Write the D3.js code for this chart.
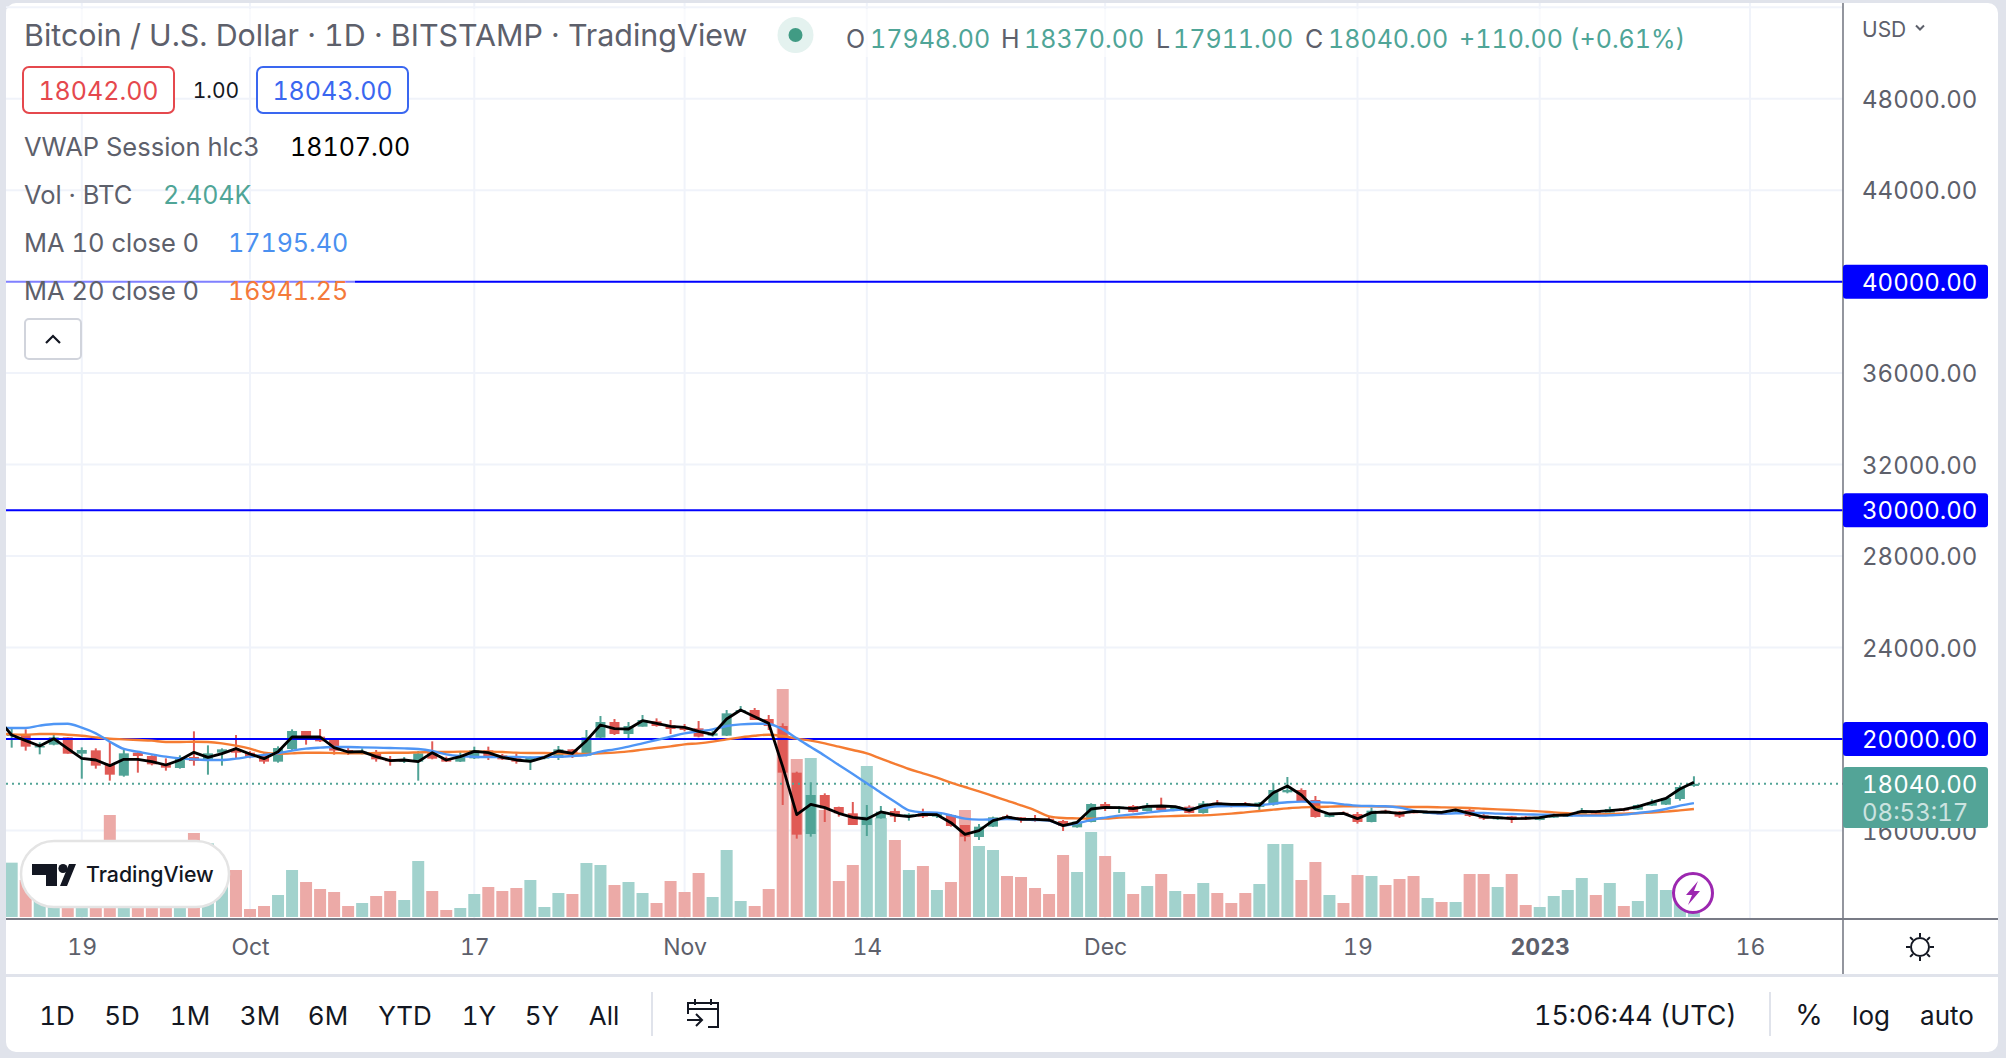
<!DOCTYPE html>
<html><head><meta charset="utf-8">
<script src="https://cdn.jsdelivr.net/npm/d3@7"></script>
<style>
html,body{margin:0;padding:0;background:#e0e3eb;overflow:hidden}
svg{display:block}
text{font-family:Inter,"Noto Sans",sans-serif;font-variant-numeric:tabular-nums;font-feature-settings:"tnum" 1}
</style></head><body>
<svg id="c" width="2006" height="1058"></svg>
<script>
const startDate = "2022-09-14";
const opens = [20131,20218,19650,19752,20073,19358,19504,18863,18396,19402,19256,18907,18732,19213,19038,19402,19548,19402,19300,19009,19563,20350,20102,19956,19519,
19402,19431,19111,19009,19009,19402,19154,19009,19154,19504,19286,19154,19023,19140,19169,19548,19271,20058,20743,20218,20539,20772,20597,20510,20466,
20145,20145,21180,21268,20874,20568,18528,15846,17551,17026,16750,16239,16531,16852,16604,16750,16604,16677,16239,15715,16167,16618,16575,16531,16516,
16414,16138,16371,17158,16939,17070,16852,17085,16924,17041,16764,17216,17187,17187,17026,17129,17668,17770,17333,16589,16779,16720,16371,16866,16822,
16837,16735,16808,16837,16896,16662,16487,16618,16604,16458,16560,16604,16633,16822,16779,16953,16910,17085,17129,17376,17948];
const highs = [20510,20422,19854,20175,20073,19635,19592,19869,19548,19446,19286,19154,19286,20335,19723,19592,20175,19460,19373,19679,20422,20350,20437,19985,19621,
19592,19519,19256,19213,19475,19898,19227,19431,19665,19665,19344,19373,19227,19256,19694,19563,20393,21005,20874,20743,21049,20903,20831,20656,20787,
20364,21268,21443,21355,21049,20685,18571,18105,17624,17041,17245,17114,17070,16968,16750,16953,16779,16706,16239,16283,16604,16691,16589,16677,16604,
16458,16414,17187,17245,17070,17114,17201,17434,17070,17099,17289,17333,17187,17245,17245,18062,18338,17843,17508,16735,16837,16808,16997,16910,16852,
16896,16837,16852,16910,16968,16750,16633,16633,16633,16633,16750,16735,16983,16852,17041,16968,17143,17362,17449,17974,18370];
const lows = [19621,19490,19329,19723,19358,18265,18703,18178,18353,18528,18848,18615,18703,18834,18440,18834,19140,19154,18921,18965,19490,19752,19869,19315,19300,
19329,19009,18834,18950,18178,19111,18994,18994,19125,19082,19082,18921,18644,19111,19082,19169,19242,20043,20175,20000,20539,20539,20218,20335,20073,
20102,20131,21180,20831,20393,17114,15642,15729,16371,16604,16239,15758,16516,16371,16429,16546,16546,16167,15525,15584,16152,16458,16341,16385,16371,
15977,16123,16356,16852,16764,16793,16837,16866,16910,16750,16735,17085,17012,17026,16837,17085,17624,17275,16560,16575,16691,16298,16356,16750,16546,
16750,16720,16677,16808,16589,16458,16458,16327,16458,16443,16546,16589,16618,16720,16764,16837,16896,17070,17114,17304,17911];
const closes = [20218,19665,19694,20073,19358,19519,18834,18440,19373,19256,18892,18746,19198,19038,19373,19548,19402,19213,19009,19606,20350,20102,19898,19490,19402,
19446,19111,19023,19111,19373,19140,19009,19300,19519,19227,19111,19009,19213,19227,19548,19315,20073,20743,20218,20568,20831,20568,20437,20393,20102,
20248,21122,21268,20831,20568,18528,15817,17551,16968,16750,16239,16604,16822,16604,16706,16604,16720,16196,15729,16167,16575,16502,16458,16443,16429,
16196,16385,17158,16939,17041,16808,17085,16896,17070,16764,17187,17114,17041,17041,17216,17770,17770,17289,16589,16720,16706,16371,16866,16764,16604,
16750,16808,16691,16910,16633,16516,16604,16487,16487,16575,16720,16706,16866,16735,16939,16866,17114,17216,17420,17901,18040];
const volumesK = [16.3,11.1,9,9,8,9,10,30.6,9,10,9,8,10,25.2,22.1,11,14.1,2.4,3.3,6.6,14.1,10.5,8.4,7.5,3.3,
4.2,6.3,7.8,5.1,16.8,7.8,2.1,2.7,6.9,9,7.8,8.7,11.1,3,7.2,6.9,16.2,15.6,9.6,10.5,7.2,4.2,10.8,7.5,13.2,
6,20.1,4.8,3.3,8.4,68.4,47.4,47.7,32.1,10.8,15.6,45.3,29.7,23.1,14.1,15.3,8.1,10.5,32.1,21.3,20.1,12.3,12,8.7,6.9,
18.6,13.5,25.5,18.3,13.5,6.9,9.3,12.9,7.8,6.9,10.2,7.2,4.2,7.2,9.9,21.9,21.9,11.1,16.5,6.6,4.2,12.6,12.3,9.6,11.4,
12.3,5.7,4.5,4.5,12.9,12.9,9,12.9,3.6,3,6.3,8.1,11.7,6.6,10.2,3.3,4.8,12.9,8.1,5,2.404];
// The three lines start one day before the first visible candle (off the left edge).
const vwap = [20889,20175,19927,19694,20014,19577,19154,19082,18834,19111,19111,19009,18863,19082,19417,19198,19358,19577,19344,19140,19446,20087,20087,20087,19621,19431,
19446,19227,19052,19082,19009,19402,19082,19227,19460,19402,19198,19082,19023,19198,19475,19373,19927,20612,20452,20437,20801,20685,20554,20510,20335,
20204,20874,21268,20976,20685,18790,16691,17143,16997,16750,16575,16502,16808,16677,16604,16706,16691,16341,15831,15992,16429,16589,16487,16487,16458,
16210,16356,16939,17012,16997,16953,17056,17070,17041,16881,17085,17172,17143,17143,17099,17653,17945,17551,16924,16720,16750,16516,16779,16808,16750,
16837,16808,16793,16896,16750,16589,16560,16516,16531,16560,16662,16677,16837,16822,16866,16924,17041,17231,17405,17813,18107];
const ma10 = [20481,20481,20481,20583,20656,20670,20495,20248,19883,19563,19446,19329,19227,19154,19111,19082,19082,19140,19227,19300,19373,19490,19577,19621,19650,19650,
19635,19621,19606,19592,19563,19475,19329,19256,19227,19213,19213,19213,19198,19213,19227,19256,19300,19446,19548,19665,19810,19956,20102,20248,20335,
20422,20568,20641,20670,20656,20422,20029,19650,19271,18863,18469,18062,17653,17260,16881,16793,16779,16662,16516,16473,16487,16502,16487,16458,16429,
16225,16312,16458,16560,16648,16706,16779,16852,16896,16939,16983,17056,17070,17070,17099,17172,17231,17260,17245,17216,17143,17085,17070,17056,16997,
16866,16779,16735,16750,16764,16764,16735,16720,16706,16691,16677,16662,16648,16648,16662,16691,16764,16837,16939,17085,17195.40];
const ma20 = [20248,20204,20189,20218,20218,20189,20145,20073,20014,19985,19956,19927,19869,19869,19883,19869,19810,19708,19577,19402,19358,19373,19402,19402,19388,19373,
19373,19388,19402,19402,19417,19431,19431,19446,19446,19446,19431,19402,19388,19388,19373,19358,19344,19373,19402,19460,19533,19606,19679,19767,19810,
19883,19985,20073,20145,20189,20131,20014,19927,19810,19665,19519,19373,19140,18907,18688,18499,18309,18090,17901,17711,17507,17303,17099,16881,16618,
16546,16531,16516,16516,16560,16575,16589,16618,16633,16648,16662,16691,16735,16793,16852,16910,16968,17012,17026,17041,17056,17056,17056,17041,17041,
17026,17026,17012,16997,16983,16953,16924,16896,16866,16837,16793,16750,16706,16691,16720,16735,16750,16779,16822,16881,16941.25];
const priceTicks = [48000,44000,40000,36000,32000,28000,24000,20000,16000];
const gridPrices = [52000,48000,44000,40000,36000,32000,28000,24000,20000,16000];
const levels = [40000,30000,20000];
const lastPrice = 18040;
const xTickDates = ["2022-09-19","2022-10-01","2022-10-17","2022-11-01","2022-11-14","2022-12-01","2022-12-19","2023-01-01","2023-01-16"];
const xTickLabels = ["19","Oct","17","Nov","14","Dec","19","2023","16"];
const rangeButtons = ["1D","5D","1M","3M","6M","YTD","1Y","5Y","All"];

const svg = d3.select("#c");
const L=6,R=1843,T=3,AX=918;
const y = d3.scaleLinear().domain([20000,48000]).range([739,98.7]);
const xDate = d3.scaleUtc().domain([new Date("2022-10-01T00:00:00Z"),new Date("2023-01-16T00:00:00Z")]).range([250,1750]);
const dayAt = i => new Date(Date.parse(startDate+"T00:00:00Z")+i*864e5);
const x = i => xDate(dayAt(i));
const v = d3.scaleLinear().domain([0,68.4]).range([917,689]);
const UP="#50a396",DN="#e05a55",UPV="#a2d2cd",DNV="#ecaaa7",TXT="#5d606b",INK="#131722";

// card
svg.append("rect").attr("x",L).attr("y",T).attr("width",1998-L).attr("height",1052-T).attr("rx",10).attr("fill","#fff");
const defs=svg.append("defs");
defs.append("clipPath").attr("id","plot").append("rect").attr("x",L).attr("y",T).attr("width",R-L).attr("height",AX-T);
const plot=svg.append("g").attr("clip-path","url(#plot)");

// grid
plot.append("g").selectAll("line").data(gridPrices).join("line")
 .attr("x1",L).attr("x2",R).attr("y1",d=>y(d)).attr("y2",d=>y(d)).attr("stroke","#f0f3fa").attr("stroke-width",2);
plot.append("g").selectAll("line").data(xTickDates).join("line")
 .attr("x1",d=>xDate(new Date(d+"T00:00:00Z"))).attr("x2",d=>xDate(new Date(d+"T00:00:00Z")))
 .attr("y1",T).attr("y2",AX).attr("stroke","#f0f3fa").attr("stroke-width",2);

// volume
plot.append("g").selectAll("rect").data(volumesK).join("rect")
 .attr("x",(d,i)=>x(i)-6).attr("width",12).attr("y",d=>v(d)).attr("height",d=>917-v(d))
 .attr("fill",(d,i)=>closes[i]>=opens[i]?UPV:DNV);

// candles
const cg=plot.append("g");
cg.selectAll("line").data(opens).join("line")
 .attr("x1",(d,i)=>x(i)).attr("x2",(d,i)=>x(i)).attr("y1",(d,i)=>y(highs[i])).attr("y2",(d,i)=>y(lows[i]))
 .attr("stroke",(d,i)=>closes[i]>=d?UP:DN).attr("stroke-width",2);
cg.selectAll("rect").data(opens).join("rect")
 .attr("x",(d,i)=>x(i)-5).attr("width",10)
 .attr("y",(d,i)=>y(Math.max(d,closes[i]))).attr("height",(d,i)=>Math.max(1.5,Math.abs(y(d)-y(closes[i]))))
 .attr("fill",(d,i)=>closes[i]>=d?UP:DN);

// last price dotted
plot.append("line").attr("x1",L).attr("x2",R).attr("y1",y(lastPrice)).attr("y2",y(lastPrice))
 .attr("stroke","#53a497").attr("stroke-width",2).attr("stroke-dasharray","2 4");

// levels
plot.append("g").selectAll("line").data(levels).join("line")
 .attr("x1",L).attr("x2",R).attr("y1",d=>y(d)).attr("y2",d=>y(d)).attr("stroke","#0000ff").attr("stroke-width",2);

// lines
const lineOf=(curve)=>d3.line().x((d,i)=>x(i-1)).y(d=>y(d)).curve(curve);
plot.append("path").datum(ma20).attr("d",lineOf(d3.curveMonotoneX)).attr("fill","none").attr("stroke","#f57c32").attr("stroke-width",2.4);
plot.append("path").datum(ma10).attr("d",lineOf(d3.curveMonotoneX)).attr("fill","none").attr("stroke","#4f96f5").attr("stroke-width",2.4);
plot.append("path").datum(vwap).attr("d",lineOf(d3.curveLinear)).attr("fill","none").attr("stroke","#000").attr("stroke-width",2.8).attr("stroke-linejoin","round");

// axis frame
svg.append("line").attr("x1",L).attr("x2",1998).attr("y1",919).attr("y2",919).attr("stroke","#787b86").attr("stroke-width",2);
svg.append("line").attr("x1",R).attr("x2",R).attr("y1",T).attr("y2",974).attr("stroke","#787b86").attr("stroke-width",1.6);
svg.append("line").attr("x1",L).attr("x2",1998).attr("y1",975.5).attr("y2",975.5).attr("stroke","#e0e3eb").attr("stroke-width",3);

// price axis
const yAxis=d3.axisRight(y).tickValues(priceTicks).tickFormat(d=>d3.format(".2f")(d)).tickSize(0).tickPadding(19);
const ya=svg.append("g").attr("transform",`translate(${R},0)`).call(yAxis);
ya.select(".domain").remove();
ya.selectAll("text").attr("fill",TXT).style("font-size","24px").attr("dy","0.36em");

// time axis
const xAxis=d3.axisBottom(xDate).tickValues(xTickDates.map(d=>new Date(d+"T00:00:00Z"))).tickFormat((d,i)=>xTickLabels[i]).tickSize(0).tickPadding(0);
const xa=svg.append("g").attr("transform","translate(0,955)").call(xAxis);
xa.select(".domain").remove();
xa.selectAll("text").attr("dy",0).attr("y",0).attr("fill",TXT).style("font-size","23px")
 .style("font-weight",(d,i)=>xTickLabels[i]==="2023"?700:400);

// legend veil
svg.append("rect").attr("x",L).attr("y",9).attr("width",1690).attr("height",48).attr("fill","#fff").attr("opacity",.6);
svg.append("rect").attr("x",L).attr("y",279).attr("width",349).attr("height",6).attr("fill","#fff").attr("opacity",.5);

const t=(s,xx,yy,size,fill,anchor,w)=>svg.append("text").text(s).attr("x",xx).attr("y",yy).attr("fill",fill)
 .style("font-size",size+"px").attr("text-anchor",anchor||"start").style("font-weight",w||400);

t("Bitcoin / U.S. Dollar · 1D · BITSTAMP · TradingView",24,46,30.4,TXT);
svg.append("circle").attr("cx",795.5).attr("cy",35).attr("r",18).attr("fill","#e4f2ef");
svg.append("circle").attr("cx",795.5).attr("cy",35).attr("r",7).attr("fill","#419b84");
const G="#4fa597";
t("O",846,48,25,TXT); t("17948.00",870,48,25,G);
t("H",1001,48,25,TXT); t("18370.00",1024,48,25,G);
t("L",1156,48,25,TXT); t("17911.00",1173,48,25,G);
t("C",1305,48,25,TXT); t("18040.00",1328,48,25,G);
t("+110.00 (+0.61%)",1459,48,25,G);

svg.append("rect").attr("x",23).attr("y",67).attr("width",151).attr("height",46).attr("rx",6).attr("fill","#fff").attr("stroke","#e5484d").attr("stroke-width",2);
t("18042.00",98.5,100,25,"#e5484d","middle");
t("1.00",216,98,21,INK,"middle");
svg.append("rect").attr("x",257).attr("y",67).attr("width",151).attr("height",46).attr("rx",6).attr("fill","#fff").attr("stroke","#3a67f0").attr("stroke-width",2);
t("18043.00",332.5,100,25,"#3a67f0","middle");

t("VWAP Session hlc3",24,156,25.5,TXT); t("18107.00",290,156,25,"#000");
t("Vol · BTC",24,204,25.5,TXT); t("2.404K",163,204,25,G);
t("MA 10 close 0",24,252,25.5,TXT); t("17195.40",228,252,25,"#4a90f0");
t("MA 20 close 0",24,300,25.5,TXT); t("16941.25",228,300,25,"#f47a3a");
svg.append("rect").attr("x",25).attr("y",319).attr("width",56).attr("height",40).attr("rx",4).attr("fill","#fff").attr("stroke","#d1d4dc").attr("stroke-width",2);
svg.append("path").attr("d","M46 343 L53 336 L60 343").attr("fill","none").attr("stroke",INK).attr("stroke-width",2.2);

// price labels
svg.append("g").selectAll("rect").data(levels).join("rect").attr("x",R).attr("width",145).attr("y",d=>y(d)-17).attr("height",34).attr("rx",3).attr("fill","#0000ff");
svg.append("g").selectAll("text").data(levels).join("text").text(d=>d3.format(".2f")(d)).attr("x",1862).attr("y",d=>y(d)+9).attr("fill","#fff").style("font-size","24px");
svg.append("rect").attr("x",R).attr("y",767).attr("width",145).attr("height",61).attr("rx",3).attr("fill","#53a497");
t("18040.00",1862,793,24,"#fff");
t("08:53:17",1862,821,24,"#fff").attr("opacity",.7);
t("USD",1862,37,21,TXT);
svg.append("path").attr("d","M1916 25.5 L1920 29.5 L1924 25.5").attr("fill","none").attr("stroke",TXT).attr("stroke-width",2);

// TradingView badge
svg.append("rect").attr("x",21).attr("y",841).attr("width",208).attr("height",66).attr("rx",33).attr("fill","#fff").attr("stroke","#e4e4e4").attr("stroke-width",2.5);
svg.append("path").attr("d","M32 864 H57 V886 H46 V875 H32 Z M60 886 L69 864 H76 L67 886 Z").attr("fill",INK);
svg.append("circle").attr("cx",63).attr("cy",868.5).attr("r",4.6).attr("fill",INK);
t("TradingView",86,882,21.3,INK,"start",500);

// lightning badge
svg.append("circle").attr("cx",1693).attr("cy",893).attr("r",19.5).attr("fill","#fff").attr("stroke","#9c27b0").attr("stroke-width",3);
svg.append("path").attr("d","M1698 881 L1686 895 H1692 L1688 905 L1700 891 H1694 Z").attr("fill","#9c27b0");

// sun
const sun=svg.append("g").attr("transform","translate(1920,947)").attr("fill","none").attr("stroke",INK).attr("stroke-width",2);
sun.append("circle").attr("r",9);
d3.range(8).forEach(k=>{const a=k*Math.PI/4;sun.append("line").attr("x1",10*Math.cos(a)).attr("y1",10*Math.sin(a)).attr("x2",14*Math.cos(a)).attr("y2",14*Math.sin(a));});

// bottom bar
const rangeX=[57,122,190,260,328,405,479,542,604];
svg.append("g").selectAll("text").data(rangeButtons).join("text").text(d=>d).attr("x",(d,i)=>rangeX[i]).attr("y",1025).attr("text-anchor","middle").attr("fill",INK).style("font-size","26px");
svg.append("line").attr("x1",652).attr("x2",652).attr("y1",992).attr("y2",1036).attr("stroke","#e0e3eb").attr("stroke-width",2);
svg.append("path").attr("d","M688 1014 V1003 H718 V1027 H708 M688 1009 H718 M695 999 V1005 M711 999 V1005 M687 1020 H702 M696 1014 L702 1020 L696 1026").attr("fill","none").attr("stroke",INK).attr("stroke-width",2);
t("15:06:44 (UTC)",1534,1025,26.8,INK);
svg.append("line").attr("x1",1770).attr("x2",1770).attr("y1",992).attr("y2",1036).attr("stroke","#e0e3eb").attr("stroke-width",2);
t("%",1809,1025,28,INK,"middle"); t("log",1871,1025,26,INK,"middle"); t("auto",1947,1025,26,INK,"middle");
</script>
</body></html>
